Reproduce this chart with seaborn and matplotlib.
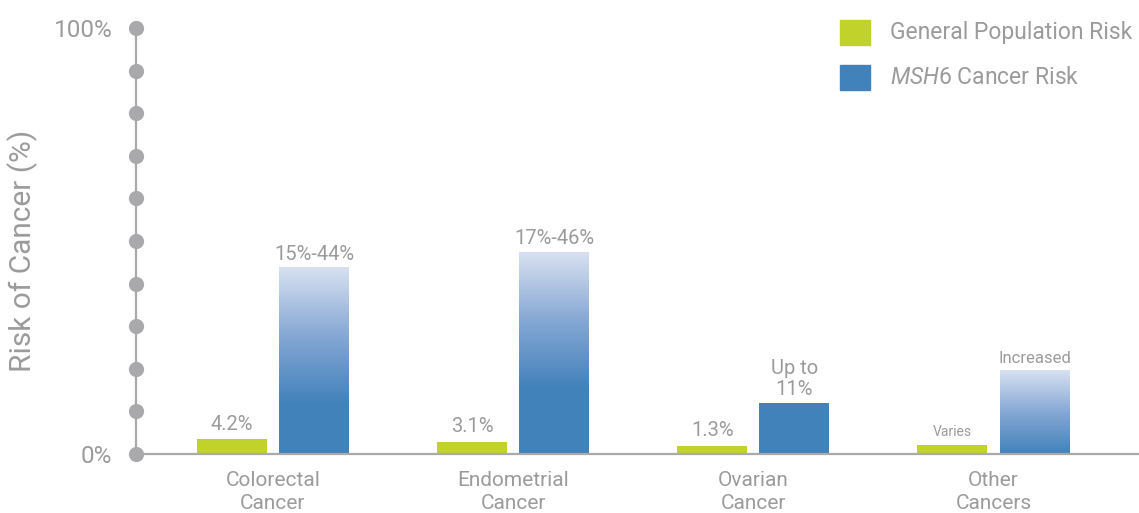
"""MSH6 cancer risk vs general population risk, bar chart with gradient range bars."""

import matplotlib
matplotlib.use("Agg")
import matplotlib.pyplot as plt
import numpy as np
import pandas as pd
import seaborn as sns
from matplotlib.colors import LinearSegmentedColormap
from matplotlib.patches import Rectangle

CATEGORIES = ["Colorectal\nCancer", "Endometrial\nCancer", "Ovarian\nCancer", "Other\nCancers"]
GENERAL = [3.5, 2.9, 1.9, 2.1]
MSH6_HIGH = [43.7, 47.3, 12.0, 19.7]
MSH6_LOW = [12.0, 15.6, 12.0, 0.0]
GENERAL_LABELS = ["4.2%", "3.1%", "1.3%", "Varies"]
MSH6_LABELS = ["15%-44%", "17%-46%", "Up to\n11%", "Increased"]
SERIES = ["General Population Risk", "MSH6 Cancer Risk"]

GREEN = "#c1d22a"
BLUE = "#4282bb"
LIGHT_BLUE = "#d8e1f1"
GREY_TEXT = "#9b9b9d"
GREY_AXIS = "#a9a9ac"

sns.set_theme(style="white")
plt.rcParams["font.family"] = ["Roboto", "DejaVu Sans"]
plt.rcParams["mathtext.fontset"] = "custom"
plt.rcParams["mathtext.it"] = "Roboto:italic"
plt.rcParams["mathtext.rm"] = "Roboto"

df = pd.DataFrame({
    "category": CATEGORIES * 2,
    "series": [SERIES[0]] * 4 + [SERIES[1]] * 4,
    "value": GENERAL + MSH6_HIGH,
})

fig = plt.figure(figsize=(11.39, 5.13), dpi=100)
ax = fig.add_axes([136 / 1139, 59 / 513, 1003 / 1139, 426 / 513])

sns.barplot(data=df, x="category", y="value", hue="series", order=CATEGORIES,
            hue_order=SERIES, palette={SERIES[0]: GREEN, SERIES[1]: BLUE},
            width=0.684, gap=0.15, saturation=1, errorbar=None, legend=False,
            linewidth=0, ax=ax)

# gradient part of the MSH6 bars (range from low estimate to high estimate)
cmap = LinearSegmentedColormap.from_list("msh6", [BLUE, "#86a8d4", LIGHT_BLUE])
grad = np.linspace(0, 1, 256).reshape(-1, 1)
for bar, lo, hi in zip(ax.containers[1], MSH6_LOW, MSH6_HIGH):
    if hi - lo < 0.5:
        continue
    x0 = bar.get_x()
    w = bar.get_width()
    ax.imshow(grad, cmap=cmap, origin="lower", aspect="auto", interpolation="bicubic",
              extent=[x0, x0 + w, lo, hi], zorder=bar.get_zorder() + 0.1)
    bar.set_height(lo + 0.1 if lo > 0 else 0.0)

# value labels
for bar, txt in zip(ax.containers[0], GENERAL_LABELS):
    size = 10 if txt == "Varies" else 14.5
    ax.annotate(txt, (bar.get_x() + bar.get_width() / 2, bar.get_height()),
                xytext=(0, 4), textcoords="offset points", ha="center", va="bottom",
                fontsize=size, color=GREY_TEXT)
for bar, hi, txt in zip(ax.containers[1], MSH6_HIGH, MSH6_LABELS):
    size = 12 if txt == "Increased" else 14.5
    ax.annotate(txt, (bar.get_x() + bar.get_width() / 2, hi),
                xytext=(0, 3), textcoords="offset points", ha="center", va="bottom",
                fontsize=size, color=GREY_TEXT, linespacing=1.1)

ax.set_xlim(-0.570, 3.606)
ax.set_ylim(0, 100)

# y axis: grey line with dots every 10%
ax.set_yticks(range(0, 101, 10))
ax.set_yticklabels(["0%"] + [""] * 9 + ["100%"], fontsize=17.5, color=GREY_TEXT)
ax.scatter([0] * 11, list(range(0, 101, 10)), s=120, color=GREY_AXIS, zorder=5,
           clip_on=False, transform=ax.get_yaxis_transform(), linewidths=0)
ax.tick_params(axis="y", length=0, pad=17)
ax.tick_params(axis="x", length=0, pad=12, labelsize=15, labelcolor=GREY_TEXT)
for lab in ax.get_xticklabels():
    lab.set_linespacing(1.3)
ax.set_xlabel("")
ax.set_ylabel("Risk of Cancer (%)", fontsize=21.5, color=GREY_TEXT)
ax.yaxis.set_label_coords(-0.098, 0.477)

for side in ["top", "right"]:
    ax.spines[side].set_visible(False)
for side in ["left", "bottom"]:
    ax.spines[side].set_color(GREY_AXIS)
    ax.spines[side].set_linewidth(1.6)
    ax.spines[side].set_zorder(4)

# legend drawn in pixel coordinates to match the layout
H = 513
for (y_top, color, label) in [(20, GREEN, "General Population Risk"),
                              (65, BLUE, r"$\it{MSH6}$ Cancer Risk")]:
    fig.add_artist(Rectangle((840 / 1139, (H - y_top - 25) / H), 30 / 1139, 25 / H,
                             transform=fig.transFigure, color=color))
    fig.text(890 / 1139, (H - y_top - 12.5) / H, label, fontsize=16.5, color=GREY_TEXT,
             ha="left", va="center")

fig.savefig("out.png", dpi=100)
